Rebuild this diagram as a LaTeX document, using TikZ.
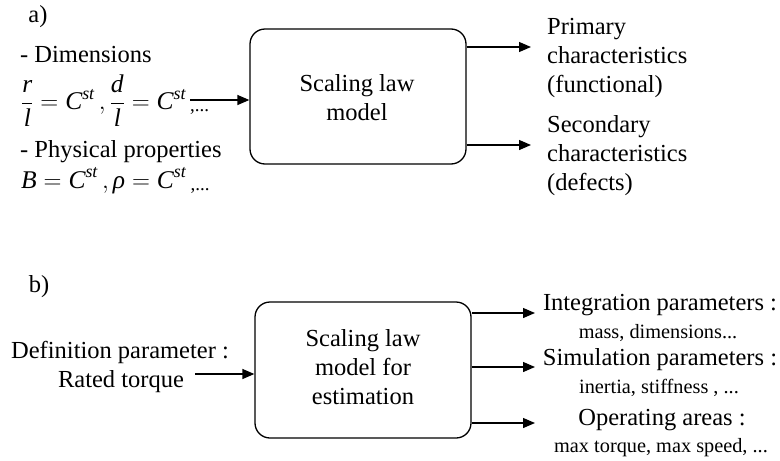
\documentclass[tikz,border=0pt]{standalone}
\usepackage{amsmath}
\usepackage{fontspec}
\setmainfont{Liberation Serif}
\usetikzlibrary{arrows.meta}
\tikzset{
  box/.style={draw, line width=1.3pt, rounded corners=15pt, inner sep=0pt},
  big/.style={font=\fontsize{24.5}{29}\selectfont, inner sep=0pt},
  small/.style={font=\fontsize{20.3}{23}\selectfont, inner sep=0pt},
  arr/.style={line width=1.3pt, -{Triangle[length=12pt,width=10pt]}},
}
\newcommand{\cst}{\textit{C}^{\textit{st}}\,}
\newcommand{\etc}{\raisebox{-2pt}{\fontsize{19}{20}\selectfont,...}}
\begin{document}
\begin{tikzpicture}[x=1pt,y=-1pt]
\useasboundingbox (0,0) rectangle (780,461);
% ---- a) ----
\node[big, anchor=base] (la) at (38,22) {a)};
\node[box, minimum width=216pt, minimum height=135pt] (boxa) at (358,96.5) {};
\node[big, align=center] (ta) at (357,98) {Scaling law\\model};
\node[big, anchor=base west] (dim) at (20,62) {- Dimensions};
\node[big, anchor=west] (eq1) at (21,101) {\fontsize{25.5}{29}\selectfont$\dfrac{\textit{r}}{\textit{l}} = \cst{},\dfrac{\textit{d}}{\textit{l}} = \cst$\etc};
\node[big, anchor=base west] (phys) at (20,157) {- Physical properties};
\node[big, anchor=base west] (eq2) at (21,188) {\fontsize{25.5}{29}\selectfont$\textit{B} = \cst{}, \textit{ρ} = \cst$\etc};
\coordinate (ain) at (190,100);
\draw[arr] (ain) -- (ain -| boxa.west);
\node[big, anchor=west, align=left] (prim) at (547,57.5) {Primary\\characteristics\\(functional)};
\node[big, anchor=west, align=left] (sec) at (547,155.5) {Secondary\\characteristics\\(defects)};
\coordinate (pa) at (531,47);
\coordinate (sa) at (531,145);
\draw[arr] (boxa.east |- pa) -- (pa);
\draw[arr] (boxa.east |- sa) -- (sa);
% ---- b) ----
\node[big, anchor=base] (lb) at (39,292) {b)};
\node[box, minimum width=216pt, minimum height=136pt] (boxb) at (363,370) {};
\node[big, align=center] (tb) at (363,367) {Scaling law\\model for\\estimation};
\node[big, anchor=base] (def) at (120,358) {Definition parameter :};
\node[big, anchor=base] (rt) at (121,387) {Rated torque};
\coordinate (bin) at (195,374);
\draw[arr] (bin) -- (bin -| boxb.west);
\node[big, anchor=base] (ip) at (660,310) {Integration parameters :};
\node[small, anchor=base] (ipd) at (658,338) {mass, dimensions...};
\node[big, anchor=base] (sp) at (660,365) {Simulation parameters :};
\node[small, anchor=base] (spd) at (659,393) {inertia, stiffness , ...};
\node[big, anchor=base] (oa) at (662,425) {Operating areas :};
\node[small, anchor=base] (oad) at (661,452) {max torque, max speed, ...};
\coordinate (o1) at (535,313);
\coordinate (o2) at (535,367);
\coordinate (o3) at (535,423);
\draw[arr] (boxb.east |- o1) -- (o1);
\draw[arr] (boxb.east |- o2) -- (o2);
\draw[arr] (boxb.east |- o3) -- (o3);
\end{tikzpicture}
\end{document}
